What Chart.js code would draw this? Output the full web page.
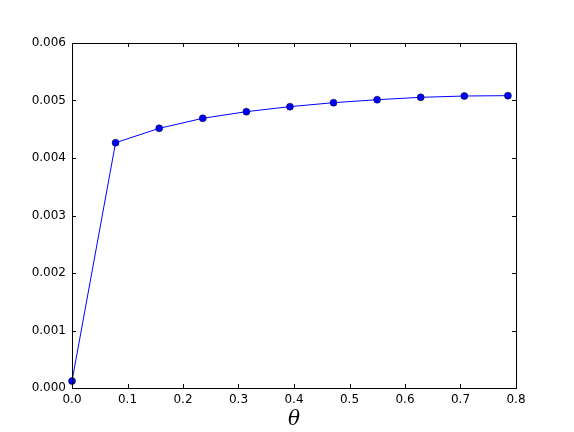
<!DOCTYPE html>
<html>
<head>
<meta charset="utf-8">
<script src="https://cdn.jsdelivr.net/npm/chart.js@4.4.1/dist/chart.umd.min.js"></script>
<style>
  body { margin: 0; background: #fff; }
  #wrap { width: 574px; height: 432px; }
</style>
</head>
<body>
<div id="wrap"><canvas id="grafica" width="574" height="432"></canvas></div>
<script>
// datos
const thetaVals = [0, 0.0785, 0.1571, 0.2356, 0.3142, 0.3927, 0.4712, 0.5498, 0.6283, 0.7069, 0.7854];
const yVals = [0.00012, 0.004266, 0.004516, 0.00469, 0.004806, 0.004893, 0.004962, 0.005014, 0.005055, 0.005078, 0.005084];
const xTicks = [0, 0.1, 0.2, 0.3, 0.4, 0.5, 0.6, 0.7, 0.8];
const yTicks = [0, 0.001, 0.002, 0.003, 0.004, 0.005, 0.006];

// ticks hacia dentro y marco completo, estilo matplotlib clasico
const marcoPlugin = {
  id: 'marco',
  afterDraw(chart) {
    const ctx = chart.ctx;
    const a = chart.chartArea;
    const sx = chart.scales.x;
    const sy = chart.scales.y;
    ctx.save();
    ctx.strokeStyle = '#000';
    ctx.lineWidth = 1;
    ctx.beginPath();
    xTicks.forEach(v => {
      const px = Math.round(sx.getPixelForValue(v)) + 0.5;
      ctx.moveTo(px, a.bottom); ctx.lineTo(px, a.bottom - 4);
      ctx.moveTo(px, a.top); ctx.lineTo(px, a.top + 4);
    });
    yTicks.forEach(v => {
      const py = Math.round(sy.getPixelForValue(v)) + 0.5;
      ctx.moveTo(a.left, py); ctx.lineTo(a.left + 4, py);
      ctx.moveTo(a.right, py); ctx.lineTo(a.right - 4, py);
    });
    ctx.stroke();
    ctx.strokeRect(Math.round(a.left) + 0.5, Math.round(a.top) + 0.5,
      Math.round(a.right - a.left), Math.round(a.bottom - a.top));
    ctx.restore();
  }
};

const ctx = document.getElementById('grafica').getContext('2d');
new Chart(ctx, {
  type: 'line',
  data: {
    datasets: [{
      data: thetaVals.map((t, i) => ({ x: t, y: yVals[i] })),
      borderColor: '#0000ff',
      borderWidth: 1,
      backgroundColor: '#0000ff',
      pointBackgroundColor: '#0000ff',
      pointBorderColor: '#000',
      pointBorderWidth: 0.5,
      pointRadius: 3.5,
      tension: 0,
      clip: false
    }]
  },
  options: {
    responsive: false,
    animation: false,
    layout: { padding: { top: 43, right: 58, left: 0, bottom: 0 } },
    plugins: { legend: { display: false }, tooltip: { enabled: false } },
    scales: {
      x: {
        type: 'linear',
        min: 0, max: 0.8,
        afterBuildTicks: s => { s.ticks = xTicks.map(v => ({ value: v })); },
        afterFit: s => { s.height = 44; },
        grid: { display: false, drawTicks: false },
        border: { display: false },
        ticks: {
          color: '#000',
          padding: 5,
          maxRotation: 0,
          font: { family: 'DejaVu Sans', size: 12 },
          callback: v => v.toFixed(1)
        },
        title: {
          display: true,
          text: 'θ',
          color: '#000',
          padding: { top: 0, bottom: 0 },
          font: { family: 'DejaVu Serif', style: 'italic', size: 20 }
        }
      },
      y: {
        type: 'linear',
        min: 0, max: 0.006,
        afterBuildTicks: s => { s.ticks = yTicks.map(v => ({ value: v })); },
        afterFit: s => { s.width = 72; },
        grid: { display: false, drawTicks: false },
        border: { display: false },
        ticks: {
          color: '#000',
          padding: 6,
          font: { family: 'DejaVu Sans', size: 12 },
          callback: v => v.toFixed(3)
        }
      }
    }
  },
  plugins: [marcoPlugin]
});
</script>
</body>
</html>
